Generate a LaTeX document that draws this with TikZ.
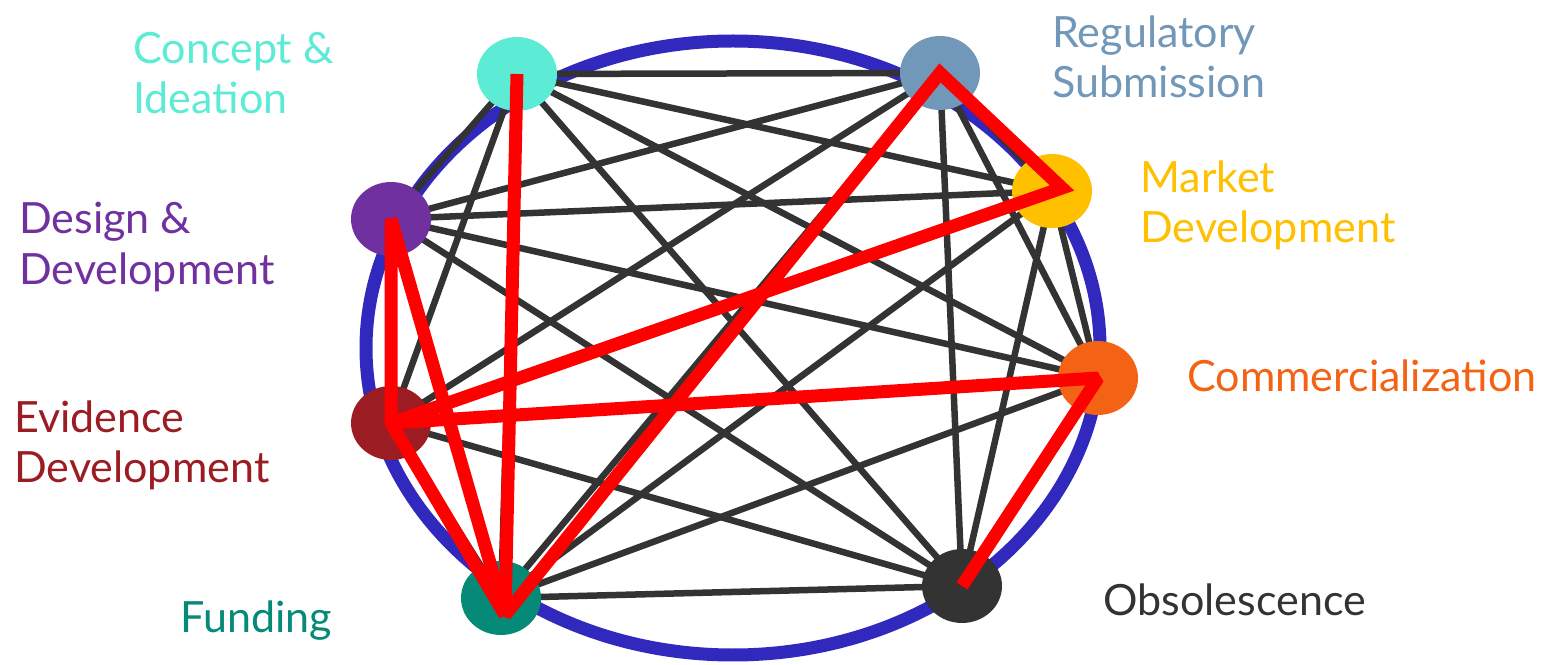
\documentclass[tikz,border=0pt]{standalone}
\usepackage{fontspec}
\setmainfont{Lato}
\usetikzlibrary{shapes.geometric}

\definecolor{ringblue}{HTML}{3128BE}
\definecolor{edgegray}{HTML}{333333}
\definecolor{cConcept}{HTML}{5CEBD5}
\definecolor{cRegul}{HTML}{7197B9}
\definecolor{cMarket}{HTML}{FFC000}
\definecolor{cComm}{HTML}{F46315}
\definecolor{cObsol}{HTML}{333333}
\definecolor{cFund}{HTML}{058A78}
\definecolor{cEvid}{HTML}{9B1D23}
\definecolor{cDesign}{HTML}{7030A0}

\pgfdeclarelayer{bg}
\pgfsetlayers{bg,main}

\tikzset{
  stage/.style={ellipse,inner sep=0pt,minimum width=1.6cm,minimum height=1.48cm,fill=#1},
  lbl/.style={anchor=west,align=left,inner sep=0pt,text=#1,font=\fontsize{24.5}{28.5}\selectfont},
  link/.style={draw=edgegray,line width=0.13cm},
  route/.style={draw=red,line width=0.26cm,line join=miter,miter limit=2}
}

\begin{document}
\begin{tikzpicture}[x=0.02cm,y=-0.02cm]
\useasboundingbox (0,0) rectangle (1549,665);
\node[stage=cConcept] (ci) at (517,74) {};
\node[stage=cRegul] (rs) at (940,73) {};
\node[stage=cMarket] (md) at (1052,191) {};
\node[stage=cComm] (co) at (1098,378) {};
\node[stage=cObsol] (ob) at (962,586) {};
\node[stage=cFund] (fu) at (501,598) {};
\node[stage=cEvid] (ev) at (391,423) {};
\node[stage=cDesign] (dd) at (391,219) {};

\begin{pgfonlayer}{bg}
\draw[ringblue,line width=0.26cm] (733,348) ellipse [x radius=367,y radius=307];
\foreach \a [count=\i] in {ci,rs,md,co,ob,fu,ev,dd}{
  \foreach \b [count=\j] in {ci,rs,md,co,ob,fu,ev,dd}{
    \ifnum\j>\i \draw[link] (\a.center) -- (\b.center); \fi
  }
}
\end{pgfonlayer}

\coordinate (fuR) at ([shift={(4,17)}]fu.center);
\coordinate (mdR) at ([shift={(10,-3)}]md.center);
\draw[route] (ci.center) -- (fuR) -- (rs.center) -- (mdR) -- (ev.center) -- (co.center) -- (ob.center);
\draw[route] (fuR) -- (dd.center) -- (ev.center) -- (fuR);

\node[lbl=cConcept] (lci) at (133,73) {Concept \&\\Ideation};
\node[lbl=cRegul] (lrs) at (1052,57) {Regulatory\\Submission};
\node[lbl=cMarket] (lmd) at (1140,205) {Market\\Development};
\node[lbl=cComm] (lco) at (1187,376) {Commercialization};
\node[lbl=cObsol] (lob) at (1103,600) {Obsolescence};
\node[lbl=cFund] (lfu) at (180,621) {Funding};
\node[lbl=cEvid] (lev) at (14,445) {Evidence\\Development};
\node[lbl=cDesign] (ldd) at (19,247) {Design \&\\Development};
\end{tikzpicture}
\end{document}
